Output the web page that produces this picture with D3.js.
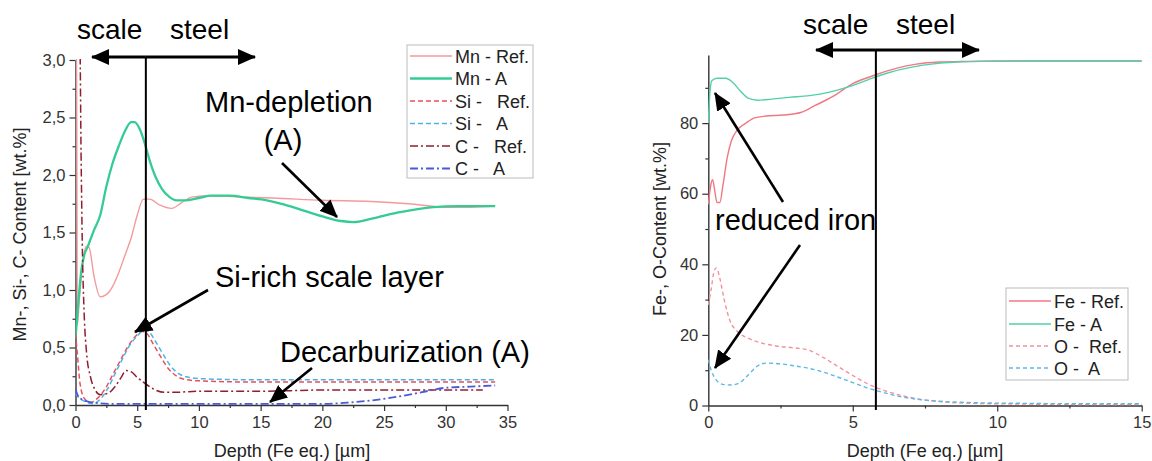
<!DOCTYPE html>
<html>
<head>
<meta charset="utf-8">
<script src="https://cdn.jsdelivr.net/npm/d3@7"></script>
<style>
  body { margin: 0; background: #fff; }
  svg { display: block; font-family: Arial, "Liberation Sans", sans-serif; }
</style>
</head>
<body>
<svg id="vis" width="1152" height="461"></svg>
<script>
// depth profiles, [depth in µm, content in wt.%]
const mnRef = [[0,3.3],[0.08,3.3],[0.15,0.7],[0.3,0.9],[0.6,1.25],[0.9,1.38],[1.1,1.37],[1.5,1.12],[2.0,0.94],[2.5,0.96],[3.0,1.03],[3.5,1.15],[4.0,1.3],[4.5,1.45],[5.0,1.65],[5.5,1.79],[6.0,1.79],[6.8,1.74],[7.8,1.71],[8.6,1.76],[9.5,1.81],[11,1.82],[13,1.81],[16,1.80],[20,1.78],[24,1.77],[27,1.75],[30,1.72],[32,1.72],[34,1.73]];
const mnA = [[0,0.58],[0.2,0.85],[0.45,1.15],[0.7,1.3],[1.0,1.38],[1.5,1.52],[2.0,1.65],[2.5,1.9],[3.0,2.1],[3.5,2.25],[4.0,2.38],[4.5,2.46],[4.8,2.46],[5.2,2.4],[5.6,2.28],[6.0,2.13],[6.5,1.98],[7.0,1.88],[7.6,1.81],[8.2,1.78],[9.0,1.78],[10,1.80],[11,1.82],[12.5,1.82],[14,1.80],[15.5,1.78],[17,1.74],[18.5,1.69],[20,1.64],[21.5,1.60],[22.5,1.59],[24,1.62],[25.5,1.66],[27,1.69],[29,1.72],[31,1.73],[34,1.73]];
const siRef = [[0,0.62],[0.15,0.45],[0.35,0.2],[0.7,0.06],[1.2,0.02],[1.8,0.06],[2.4,0.14],[3.0,0.26],[3.6,0.38],[4.2,0.5],[4.8,0.59],[5.4,0.64],[5.8,0.62],[6.3,0.53],[6.9,0.42],[7.5,0.32],[8.2,0.25],[9.0,0.22],[10,0.21],[14,0.2],[20,0.2],[26,0.2],[30,0.2],[34,0.2]];
const siA = [[0,0.1],[0.3,0.06],[0.8,0.03],[1.4,0.01],[2.0,0.05],[2.6,0.14],[3.2,0.27],[3.8,0.4],[4.4,0.52],[5.0,0.6],[5.6,0.65],[6.0,0.63],[6.5,0.55],[7.1,0.44],[7.7,0.34],[8.4,0.27],[9.2,0.24],[10,0.23],[14,0.22],[20,0.22],[26,0.22],[30,0.22],[34,0.22]];
const cRef = [[0,3.3],[0.35,3.2],[0.45,2.2],[0.55,1.4],[0.7,0.8],[0.9,0.45],[1.2,0.25],[1.6,0.13],[2.0,0.09],[2.6,0.1],[3.2,0.16],[3.7,0.24],[4.1,0.3],[4.5,0.29],[5.0,0.24],[5.6,0.19],[6.3,0.14],[7.2,0.11],[8,0.11],[10,0.12],[15,0.12],[20,0.13],[25,0.13],[30,0.13],[33,0.13]];
const cA = [[0,0.14],[0.2,0.08],[0.5,0.05],[1.0,0.03],[1.5,0.02],[3,0.01],[6,0.01],[10,0.01],[15,0.01],[20,0.01],[22,0.02],[24,0.04],[26,0.07],[28,0.11],[30,0.15],[32,0.16],[34,0.17]];

const feRef = [[0,57],[0.1,63],[0.15,64],[0.22,61],[0.3,57.5],[0.4,57.5],[0.5,62],[0.65,70],[0.8,75],[1.0,78],[1.3,80],[1.6,81.5],[2.0,82],[2.6,82.3],[3.2,83],[3.7,85],[4.3,87.5],[5.0,91.2],[5.8,93.7],[6.5,95.5],[7.2,96.7],[8.0,97.3],[9,97.5],[10,97.6],[12,97.6],[15,97.6]];
const feA = [[0,80],[0.05,88],[0.12,92],[0.3,92.7],[0.6,92.7],[0.85,91.5],[1.1,89.2],[1.4,87],[1.7,86.5],[2.2,86.8],[2.8,87.3],[3.5,87.8],[4.2,88.8],[4.9,90.4],[5.5,92.2],[6.2,94.2],[7.0,95.8],[7.8,96.8],[8.6,97.3],[9.5,97.5],[11,97.6],[15,97.6]];
const oRef = [[0,28.5],[0.1,33],[0.2,38],[0.28,39],[0.4,36],[0.55,30],[0.75,24],[1.0,21],[1.4,19],[1.8,17.8],[2.4,16.8],[3.0,16.3],[3.5,15.6],[4.0,13.5],[4.5,11],[5.0,8.5],[5.5,6.2],[6.0,4.5],[6.6,3],[7.3,1.8],[8.2,1],[9.2,0.6],[11,0.4],[13,0.3],[15,0.3]];
const oA = [[0,13],[0.1,10],[0.25,7.5],[0.5,6],[0.8,5.8],[1.1,6.5],[1.4,8.8],[1.7,11.2],[2.0,12],[2.5,11.8],[3.0,11.2],[3.5,10.5],[4.0,9.4],[4.5,8],[5.0,6.5],[5.5,5],[6.0,3.8],[6.6,2.6],[7.3,1.7],[8.2,1.1],[9.2,0.8],[11,0.6],[13,0.5],[15,0.5]];

const leftXTicks = [0, 5, 10, 15, 20, 25, 30, 35];
const leftYTicks = [0, 0.5, 1.0, 1.5, 2.0, 2.5, 3.0];
const rightXTicks = [0, 5, 10, 15];
const rightYTicks = [0, 20, 40, 60, 80];
const leftLabels = ["Mn - Ref.", "Mn - A", "Si -   Ref.", "Si -   A", "C -   Ref.", "C -   A"];
const rightLabels = ["Fe - Ref.", "Fe - A", "O -  Ref.", "O -  A"];
const scaleBoundary = [5.7, 5.8]; // left, right

const svg = d3.select("#vis");
const ink = "#333";

// Pfeilspitze
svg.append("defs").append("marker")
    .attr("id", "head")
    .attr("markerUnits", "userSpaceOnUse")
    .attr("markerWidth", 18).attr("markerHeight", 16)
    .attr("refX", 17).attr("refY", 8)
    .attr("orient", "auto")
    .append("path").attr("d", "M0,0 L18,8 L0,16 Z").attr("fill", "#000");

function drawAxes(g, x, y, xTicks, yTicks, xMinor, yMinor, fmt) {
    const h = y.range()[0];
    const l = x.range()[0];
    const xa = g.append("g").attr("transform", "translate(0," + h + ")")
        .call(d3.axisBottom(x).tickValues(xMinor).tickSize(3).tickFormat(""));
    xa.select(".domain").remove();
    const ya = g.append("g").attr("transform", "translate(" + l + ",0)")
        .call(d3.axisLeft(y).tickValues(yMinor).tickSize(3).tickFormat(""));
    ya.select(".domain").remove();
    g.append("g").attr("transform", "translate(0," + h + ")")
        .call(d3.axisBottom(x).tickValues(xTicks).tickSize(6).tickSizeOuter(0).tickPadding(5));
    g.append("g").attr("transform", "translate(" + l + ",0)")
        .call(d3.axisLeft(y).tickValues(yTicks).tickSize(6).tickSizeOuter(0).tickPadding(4).tickFormat(fmt));
    g.selectAll(".domain").attr("stroke", ink).attr("stroke-width", 1.4);
    g.selectAll(".tick line").attr("stroke", ink).attr("stroke-width", 1.2);
    g.selectAll(".tick text").attr("font-size", "16.5px").attr("fill", ink)
        .attr("font-family", "Arial, 'Liberation Sans', sans-serif");
}

function drawSeries(g, x, y, series, clipId) {
    const line = d3.line().x(d => x(d[0])).y(d => y(d[1])).curve(d3.curveMonotoneX);
    const cg = g.append("g").attr("clip-path", "url(#" + clipId + ")");
    series.forEach(s => {
        cg.append("path")
            .attr("d", line(s.data))
            .attr("fill", "none")
            .attr("stroke", s.color)
            .attr("stroke-width", s.width)
            .attr("stroke-dasharray", s.dash || null);
    });
}

function drawLegend(g, x0, y0, w, h, rows, series, labels) {
    g.append("rect").attr("x", x0).attr("y", y0).attr("width", w).attr("height", h)
        .attr("fill", "#fff").attr("stroke", "#bbb").attr("stroke-width", 1);
    series.forEach((s, i) => {
        g.append("line")
            .attr("x1", x0 + 3).attr("x2", x0 + 45)
            .attr("y1", rows[i]).attr("y2", rows[i])
            .attr("stroke", s.color).attr("stroke-width", s.width)
            .attr("stroke-dasharray", s.dash || null);
        g.append("text")
            .attr("x", x0 + 48).attr("y", rows[i] + 6.5)
            .style("white-space", "pre")
            .attr("font-size", "18px").attr("fill", "#222")
            .text(labels[i]);
    });
}

function arrow(x1, y1, x2, y2, w) {
    svg.append("line")
        .attr("x1", x1).attr("y1", y1).attr("x2", x2).attr("y2", y2)
        .attr("stroke", "#000").attr("stroke-width", w || 2.6)
        .attr("marker-end", "url(#head)");
}

function note(x, y, txt, anchor, size) {
    svg.append("text").attr("x", x).attr("y", y)
        .attr("font-size", (size || 29) + "px").attr("fill", "#000")
        .attr("text-anchor", anchor || "start")
        .text(txt);
}

// ---------------- left chart ----------------
const xL = d3.scaleLinear().domain([0, 35]).range([75.5, 507.5]);
const yL = d3.scaleLinear().domain([0, 3]).range([405, 60]);
const gL = svg.append("g");

svg.select("defs").append("clipPath").attr("id", "clipL")
    .append("rect").attr("x", 75.5).attr("y", 59).attr("width", 440).attr("height", 347);

drawAxes(gL, xL, yL, leftXTicks, leftYTicks,
    d3.range(2.5, 35, 5), d3.range(0.25, 3, 0.5),
    d => d3.format(".1f")(d).replace(".", ","));

const leftSeries = [
    { data: mnRef, color: "#f29a9c", width: 1.4 },
    { data: mnA, color: "#34cc94", width: 2.3 },
    { data: siRef, color: "#e8505f", width: 1.5, dash: "5,3" },
    { data: siA, color: "#4cb4e4", width: 1.5, dash: "5,3" },
    { data: cRef, color: "#8e1f30", width: 1.5, dash: "8,3,2,3" },
    { data: cA, color: "#4a5ad8", width: 1.8, dash: "8,3,2,3" }
];
drawSeries(gL, xL, yL, leftSeries, "clipL");

gL.append("text")
    .attr("transform", "translate(26," + (yL(1.5) + 2) + ") rotate(-90)")
    .attr("text-anchor", "middle").attr("font-size", "18px").attr("fill", "#222")
    .text("Mn-, Si-, C- Content [wt.%]");
gL.append("text")
    .attr("x", 292).attr("y", 457)
    .attr("text-anchor", "middle").attr("font-size", "18px").attr("fill", "#222")
    .text("Depth (Fe eq.) [µm]");

drawLegend(gL, 407, 45, 126, 133, [56, 78.5, 101, 123.5, 146, 168.5], leftSeries, leftLabels);

// ---------------- right chart ----------------
const xR = d3.scaleLinear().domain([0, 15]).range([708.3, 1141.7]);
const yR = d3.scaleLinear().domain([0, 99.3]).range([405.5, 55]);
const gR = svg.append("g");

svg.select("defs").append("clipPath").attr("id", "clipR")
    .append("rect").attr("x", 708).attr("y", 50).attr("width", 440).attr("height", 357);

drawAxes(gR, xR, yR, rightXTicks, rightYTicks,
    d3.range(2.5, 15, 5), d3.range(10, 100, 20), d3.format("d"));

const rightSeries = [
    { data: feRef, color: "#f07882", width: 1.4 },
    { data: feA, color: "#52d0aa", width: 1.4 },
    { data: oRef, color: "#f2929c", width: 1.4, dash: "4,3" },
    { data: oA, color: "#5cb8e6", width: 1.4, dash: "4,3" }
];
drawSeries(gR, xR, yR, rightSeries, "clipR");

gR.append("text")
    .attr("transform", "translate(666," + yR(50) + ") rotate(-90)")
    .attr("text-anchor", "middle").attr("font-size", "18px").attr("fill", "#222")
    .text("Fe-, O-Content [wt.%]");
gR.append("text")
    .attr("x", 925).attr("y", 457)
    .attr("text-anchor", "middle").attr("font-size", "18px").attr("fill", "#222")
    .text("Depth (Fe eq.) [µm]");

drawLegend(gR, 1006, 288, 122, 92, [301, 324, 346, 368], rightSeries, rightLabels);

// ---------------- scale / steel markers ----------------
const bL = xL(scaleBoundary[0]);
svg.append("line").attr("x1", bL).attr("x2", bL).attr("y1", 57).attr("y2", 410)
    .attr("stroke", "#000").attr("stroke-width", 2);
arrow(bL, 57, 92, 57, 3);
arrow(bL, 57, 255, 57, 3);
note(77, 39, "scale", null, 28);
note(170, 39, "steel", null, 28);

const bR = xR(scaleBoundary[1]);
svg.append("line").attr("x1", bR).attr("x2", bR).attr("y1", 50).attr("y2", 410)
    .attr("stroke", "#000").attr("stroke-width", 2);
arrow(bR, 50, 816, 50, 3);
arrow(bR, 50, 979, 50, 3);
note(803, 34, "scale", null, 28);
note(896, 34, "steel", null, 28);

// ---------------- annotations ----------------
note(205, 112, "Mn-depletion");
note(283, 150, "(A)", "middle");
arrow(282, 163, 337, 217);

note(215, 287, "Si-rich scale layer");
arrow(208, 290, 135, 332);

note(280, 362, "Decarburization (A)");
arrow(312, 368, 270, 402);

note(715, 230, "reduced iron");
arrow(783, 202, 715, 93);
arrow(800, 245, 715, 368);
</script>
</body>
</html>
